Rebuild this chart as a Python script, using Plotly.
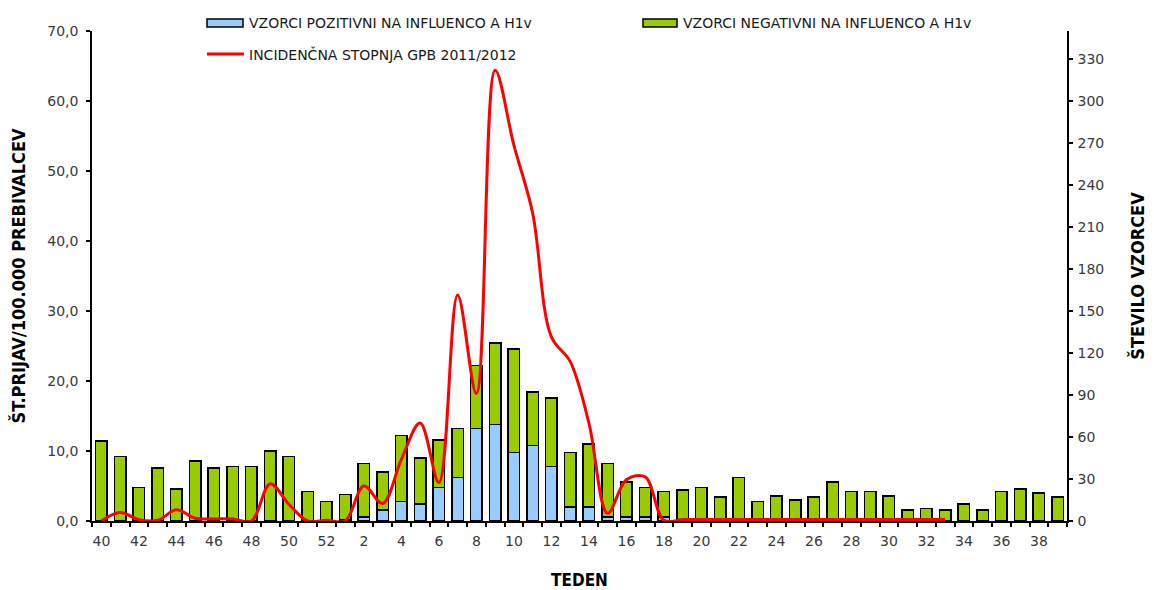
import plotly.graph_objects as go

WEEKS = ["40", "41", "42", "43", "44", "45", "46", "47", "48", "49", "50", "51", "52",
         "1", "2", "3", "4", "5", "6", "7", "8", "9", "10", "11", "12", "13",
         "14", "15", "16", "17", "18", "19", "20", "21", "22", "23", "24", "25", "26",
         "27", "28", "29", "30", "31", "32", "33", "34", "35", "36", "37", "38", "39"]
TICK_TEXT = [w if int(w) % 2 == 0 else "" for w in WEEKS]

# samples positive for influenza A H1v (right axis)
POSITIVE = [0, 0, 0, 0, 0, 0, 0, 0, 0, 0, 0, 0, 0,
            1, 3, 8, 14, 12, 24, 31, 66, 69, 49, 54, 39, 10,
            10, 3, 3, 3, 3, 0, 0, 0, 0, 0, 0, 0, 0,
            0, 0, 0, 0, 0, 0, 0, 0, 0, 0, 0, 0, 0]
# samples negative for influenza A H1v (right axis)
NEGATIVE = [57, 46, 24, 38, 23, 43, 38, 39, 39, 50, 46, 21, 14,
            18, 38, 27, 47, 33, 34, 35, 45, 58, 74, 38, 49, 39,
            45, 38, 25, 21, 18, 22, 24, 17, 31, 14, 18, 15, 17,
            28, 21, 21, 18, 8, 9, 8, 12, 8, 21, 23, 20, 17]
# GP incidence rate per 100 000 (left axis)
INCIDENCE = [0.0, 1.2, 0.2, 0.1, 1.6, 0.4, 0.3, 0.3, 0.0, 5.3, 2.4, 0.0, 0.1,
             0.0, 5.0, 2.5, 8.8, 14.0, 5.5, 32.3, 18.2, 64.4, 53.7, 44.0, 26.3, 22.8,
             14.0, 1.1, 5.9, 6.3, 0.1, 0.2, 0.2, 0.2, 0.2, 0.2, 0.2, 0.2, 0.2,
             0.2, 0.2, 0.2, 0.2, 0.2, 0.2, 0.2, None, None, None, None, None, None]

LABEL_POS = "VZORCI POZITIVNI NA INFLUENCO A H1v"
LABEL_NEG = "VZORCI NEGATIVNI NA INFLUENCO A H1v"
LABEL_INC = "INCIDENČNA STOPNJA GPB 2011/2012"

BLUE = "#99CCFF"
GREEN = "#99CC00"
RED = "#FF0000"
TEXT = "#3A3A3A"
FONT = "DejaVu Sans"
TITLE_FONT = {"family": "Liberation Sans Narrow, DejaVu Sans Condensed, DejaVu Sans",
              "size": 18, "color": "#000000", "weight": "bold"}

# the page body has an 8px margin, so the figure is a little smaller than the window
W, H = 1146, 582
L, R, T, B = 84, 87, 23, 69
# plot area in page pixels
PX0, PX1, PY0, PY1 = 92, 1067, 31, 521


def px(x, y):
    # page pixel -> paper coords of the plot area
    return (x - PX0) / (PX1 - PX0), (PY1 - y) / (PY1 - PY0)


fig = go.Figure()

fig.add_trace(go.Bar(
    x=WEEKS, y=POSITIVE, name=LABEL_POS, yaxis="y",
    marker={"color": BLUE, "line": {"color": "#000000", "width": 1.5}},
    showlegend=False,
))
fig.add_trace(go.Bar(
    x=WEEKS, y=NEGATIVE, name=LABEL_NEG, yaxis="y",
    marker={"color": GREEN, "line": {"color": "#000000", "width": 1.5}},
    showlegend=False,
))
fig.add_trace(go.Scatter(
    x=WEEKS, y=INCIDENCE, name=LABEL_INC, yaxis="y2",
    mode="lines", line={"color": RED, "width": 3, "shape": "spline", "smoothing": 1},
    connectgaps=False, showlegend=False,
))

# legend drawn by hand to get the wide Excel-style swatches
shapes = []
annotations = []
for x0, x1, color, label, ty in [
    (207, 243, BLUE, LABEL_POS, 23),
    (643, 677, GREEN, LABEL_NEG, 23),
]:
    a = px(x0, ty - 4)
    b = px(x1, ty + 4)
    shapes.append({"type": "rect", "xref": "paper", "yref": "paper",
                   "x0": a[0], "y0": b[1], "x1": b[0], "y1": a[1],
                   "fillcolor": color, "line": {"color": "#000000", "width": 1.5}})
    tx, tyy = px(x1 + 4, ty)
    annotations.append({"text": label, "xref": "paper", "yref": "paper", "x": tx, "y": tyy,
                        "xanchor": "left", "yanchor": "middle", "showarrow": False,
                        "font": {"family": FONT, "size": 14, "color": "#1A1A1A"}})
a = px(207, 54)
b = px(244, 54)
shapes.append({"type": "line", "xref": "paper", "yref": "paper",
               "x0": a[0], "y0": a[1], "x1": b[0], "y1": b[1],
               "line": {"color": RED, "width": 3}})
tx, tyy = px(247, 54)
annotations.append({"text": LABEL_INC, "xref": "paper", "yref": "paper", "x": tx, "y": tyy,
                    "xanchor": "left", "yanchor": "middle", "showarrow": False,
                    "font": {"family": FONT, "size": 14, "color": "#1A1A1A"}})

axis_common = {
    "showline": True, "linecolor": "#000000", "linewidth": 1.5,
    "ticks": "outside", "ticklen": 4, "tickcolor": "#000000", "tickwidth": 1.5,
    "showgrid": False, "zeroline": False, "automargin": False,
    "tickfont": {"family": FONT, "size": 14, "color": TEXT},
}

fig.update_layout(
    width=W, height=H,
    margin={"l": L, "r": R, "t": T, "b": B},
    paper_bgcolor="#FFFFFF", plot_bgcolor="#FFFFFF",
    separators=",.",
    barmode="stack", bargap=0.38,
    shapes=shapes, annotations=annotations,
    font={"family": FONT, "color": TEXT},
    xaxis={**axis_common, "type": "category", "categoryorder": "array", "categoryarray": WEEKS,
           "tickvals": WEEKS, "ticktext": TICK_TEXT, "tickson": "boundaries",
           "tickangle": 0, "ticklabelstandoff": 6,
           "title": {"text": "TEDEN", "font": {**TITLE_FONT, "size": 17}, "standoff": 30}},
    yaxis={**axis_common, "side": "right", "range": [0, 350], "tick0": 0, "dtick": 30,
           "ticklabelstandoff": 2,
           "title": {"text": "ŠTEVILO VZORCEV", "font": TITLE_FONT, "standoff": 28}},
    yaxis2={**axis_common, "side": "left", "overlaying": "y", "range": [0, 70],
            "tick0": 0, "dtick": 10, "tickformat": ".1f", "ticklabelstandoff": 5,
            "title": {"text": "ŠT.PRIJAV/100.000 PREBIVALCEV", "font": TITLE_FONT, "standoff": 22}},
)

fig.write_html("out.html")
